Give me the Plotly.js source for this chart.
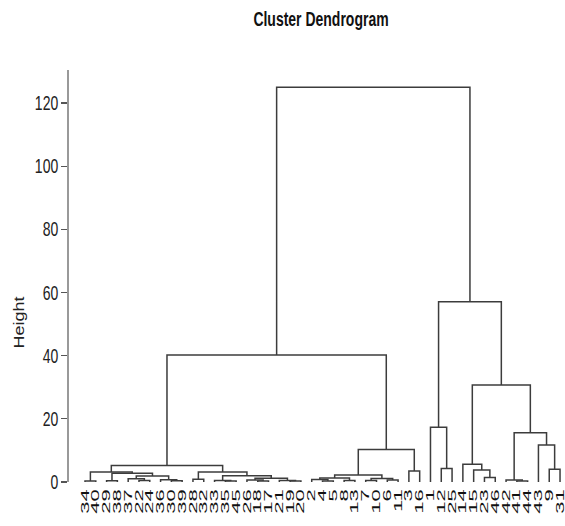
<!DOCTYPE html>
<html>
<head>
<meta charset="utf-8">
<script src="https://cdn.plot.ly/plotly-3.0.1.min.js"></script>
<style>html,body{margin:0;padding:0;background:#fff;}#chart{width:565px;height:526px;}</style>
</head>
<body>
<div id="chart"></div>
<script>
// Leaf labels in dendrogram order (left to right)
const leafOrder = [34,40,29,38,37,22,24,36,30,39,28,32,33,35,45,26,18,17,21,19,20,
                   2,4,5,8,13,7,10,6,11,3,16,1,12,25,14,15,23,46,42,41,44,43,9,31];
// hclust-style merges: negative = leaf label, positive = merge step (1-based)
const mergeLeft  = [-34,-29,-22,-37,-30,-36, 4, 2, 1,-28,-35,-33,-18,-26,-19,-21,14,12,10, 9,
                    -4, -2, -8, 22, -7, -6,25,24,-3, 28, 20,-12, -1,-23,-15,-14,-41,-42,-9,-43,38,36,33,31];
const mergeRight = [-40,-38,-24,  3,-39,  5, 6, 7, 8,-32,-45, 11,-17, 13,-20, 15,16,17,18,19,
                    -5, 21,-13, 23,-10,-11,26,27,-16,29, 30,-25, 32,-46, 34, 35,-44, 37,-31,39,40,41,42,43];
const mergeHeight = [0.3,0.4,0.5,1.0,0.4,0.7,1.9,2.8,3.2,0.9,0.3,0.5,0.3,0.6,0.3,0.5,1.2,2.0,3.2,5.2,
                     0.3,0.8,0.5,1.3,0.5,0.6,1.1,2.2,3.5,10.3,40.2,4.3,17.3,1.4,3.8,5.6,0.3,0.6,4.0,11.7,15.6,30.7,57.1,125.0];
const yTicks = [0,20,40,60,80,100,120];

// build segments from the merge table
const leafPos = {};
leafOrder.forEach((lab, i) => { leafPos[lab] = i; });
const nodeX = [], nodeH = [];
function pos(id) { return id < 0 ? [leafPos[-id], 0] : [nodeX[id-1], nodeH[id-1]]; }
const xs = [], ys = [];
for (let k = 0; k < mergeHeight.length; k++) {
  const [xl, hl] = pos(mergeLeft[k]);
  const [xr, hr] = pos(mergeRight[k]);
  const h = mergeHeight[k];
  xs.push(xl, xl, xr, xr, null);
  ys.push(hl, h, h, hr, null);
  nodeX.push((xl + xr) / 2);
  nodeH.push(h);
}

const fam = '"Liberation Sans", Arial, Helvetica, sans-serif';
const yTop = 130.45;

const trace = {
  x: xs, y: ys, type: 'scatter', mode: 'lines',
  line: {color: '#3c3c3c', width: 1.5},
  hoverinfo: 'skip', showlegend: false, cliponaxis: false
};

const layout = {
  width: 565, height: 526,
  margin: {l: 68, r: 0, t: 70, b: 40, pad: 0},
  paper_bgcolor: '#fff', plot_bgcolor: '#fff',
  title: {
    text: '<b>Cluster Dendrogram</b>',
    font: {family: fam, size: 14, color: '#111'},
    x: 321/565, xanchor: 'center', xref: 'container',
    y: 1 - 19/526, yanchor: 'middle', yref: 'container'
  },
  xaxis: {
    range: [-1.574, 44.46],
    tickmode: 'array',
    tickvals: leafOrder.map((_, i) => i),
    ticktext: leafOrder.map(String),
    tickangle: -90,
    ticklabeloverflow: 'allow',
    tickfont: {family: fam, size: 11, color: '#111'},
    ticks: '', showgrid: false, zeroline: false, showline: false,
    fixedrange: true
  },
  yaxis: {
    range: [-1.27, yTop],
    tickmode: 'array',
    tickvals: yTicks,
    ticktext: yTicks.map(String),
    ticks: 'outside', ticklen: 6, tickwidth: 1.2, tickcolor: '#555',
    tickfont: {family: fam, size: 14, color: '#222'},
    showgrid: false, zeroline: false, showline: false,
    fixedrange: true
  },
  shapes: [{
    type: 'line', xref: 'paper', yref: 'y', x0: 0, x1: 0, y0: 0, y1: yTop,
    line: {color: '#555', width: 1.2}
  }],
  annotations: [{
    text: 'Height', xref: 'paper', yref: 'paper',
    x: (18-68)/497, y: (486-322)/416, xanchor: 'center', yanchor: 'middle',
    textangle: -90, showarrow: false,
    font: {family: fam, size: 15, color: '#222'}
  }]
};

// stretch text along one direction about an anchor point (mimics the tall, narrow lettering)
function stretch(el, sx, sy, cx, cy) {
  const tr = el.getAttribute('transform') || '';
  el.setAttribute('transform', tr + ' translate(' + cx + ',' + cy + ') scale(' + sx + ',' + sy + ') translate(' + (-cx) + ',' + (-cy) + ')');
}

Plotly.newPlot('chart', [trace], layout, {displayModeBar: false, staticPlot: true}).then(function (gd) {
  gd.querySelectorAll('.xtick text').forEach(function (t) {
    const x = +t.getAttribute('x') || 0, y = +t.getAttribute('y') || 0;
    stretch(t, 2.0, 1, x, y);
  });
  gd.querySelectorAll('.ytick text').forEach(function (t) {
    const b = t.getBBox();
    stretch(t, 1, 1.45, b.x + b.width, b.y + b.height / 2);
  });
  gd.querySelectorAll('.gtitle').forEach(function (t) {
    const b = t.getBBox();
    stretch(t, 1, 1.5, b.x + b.width / 2, b.y + b.height / 2);
  });
  gd.querySelectorAll('.annotation-text').forEach(function (t) {
    const b = t.getBBox();
    stretch(t, 1.2, 1, b.x + b.width / 2, b.y + b.height / 2);
  });
});
</script>
</body>
</html>
